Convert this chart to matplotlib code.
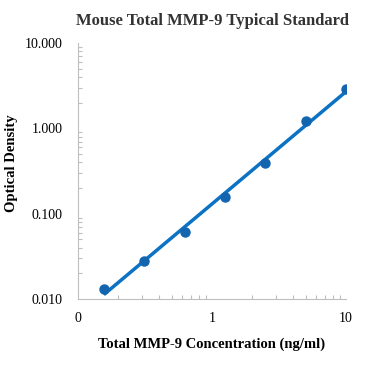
import numpy as np
import matplotlib
matplotlib.use('Agg')
import matplotlib.pyplot as plt
from matplotlib.ticker import FixedLocator, LogLocator, NullFormatter

# Standard curve data
conc = [0.156, 0.3125, 0.625, 1.25, 2.5, 5.0, 10.0]  # ng/ml
od = [0.0132, 0.0281, 0.0615, 0.158, 0.390, 1.23, 2.87]
x_ticks = [0.1, 1, 10]
x_tick_labels = ['0', '1', '10']
y_ticks = [0.01, 0.1, 1, 10]
y_tick_labels = ['0.010', '0.100', '1.000', '10.000']

plt.rcParams['font.family'] = ['Liberation Serif', 'DejaVu Serif']

fig = plt.figure(figsize=(3.71, 3.73), dpi=100)
ax = fig.add_axes([0.210, 0.198, 0.723, 0.687])

# Power trendline fitted in log-log space
coef = np.polyfit(np.log10(conc), np.log10(od), 1)
x_fit = np.array([conc[0], conc[-1]])
y_fit = 10 ** np.polyval(coef, np.log10(x_fit))
ax.plot(x_fit, y_fit, color='#0b72c4', linewidth=2.5, solid_capstyle='butt', zorder=2)
ax.plot(conc, od, 'o', color='#1465b0', markersize=6.5, zorder=3)

ax.set_xscale('log')
ax.set_yscale('log')
ax.set_xlim(0.1, 10)
ax.set_ylim(0.01, 10)

ax.xaxis.set_major_locator(FixedLocator(x_ticks))
ax.set_xticklabels(x_tick_labels)
ax.yaxis.set_major_locator(FixedLocator(y_ticks))
ax.set_yticklabels(y_tick_labels)
ax.xaxis.set_minor_locator(LogLocator(base=10, subs=np.arange(2, 10)))
ax.yaxis.set_minor_locator(LogLocator(base=10, subs=np.arange(2, 10)))
ax.xaxis.set_minor_formatter(NullFormatter())
ax.yaxis.set_minor_formatter(NullFormatter())

for side in ['top', 'right']:
    ax.spines[side].set_visible(False)
for side in ['left', 'bottom']:
    ax.spines[side].set_color('#bfbfbf')
    ax.spines[side].set_linewidth(0.8)

ax.tick_params(which='both', direction='in', color='#bfbfbf', width=0.8)
ax.tick_params(which='major', length=0, labelsize=10, pad=9)
ax.tick_params(which='minor', length=3)
ax.tick_params(axis='y', which='major', pad=11)

ax.set_title('Mouse Total MMP-9 Typical Standard', fontsize=12, fontweight='bold',
             color='#333333', pad=13)
ax.set_xlabel('Total MMP-9 Concentration (ng/ml)', fontsize=10.5, fontweight='bold', labelpad=9)
ax.set_ylabel('Optical Density', fontsize=10.5, fontweight='bold')
ax.yaxis.set_label_coords(-0.224, 0.53)

fig.savefig('out.png', dpi=100)
